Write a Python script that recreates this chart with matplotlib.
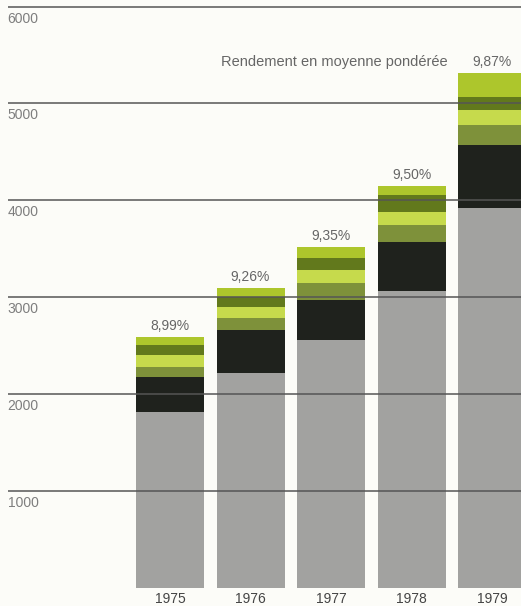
import numpy as np
import matplotlib.pyplot as plt

plt.rcParams['font.family'] = ['Liberation Sans', 'DejaVu Sans']

years = ['1975', '1976', '1977', '1978', '1979']
rates = ['8,99%', '9,26%', '9,35%', '9,50%', '9,87%']

# stacked layers, bottom to top
gray_part = [1813, 2216, 2557, 3063, 3920]
black_part = [362, 444, 413, 506, 651]
olive_part = [103, 124, 176, 176, 207]
light_lime = [124, 114, 134, 134, 155]
dark_olive = [103, 103, 124, 176, 134]
lime_top = [83, 93, 114, 93, 248]

grid_values = [1000, 2000, 3000, 4000, 5000, 6000]

layers = [gray_part, black_part, olive_part, light_lime, dark_olive, lime_top]
colors = ['#a2a2a0', '#1f221d', '#7e913a', '#c6da4c', '#62791c', '#adc62c']

fig = plt.figure(figsize=(5.21, 6.06), dpi=100)
fig.patch.set_facecolor('#fcfcf8')
ax = fig.add_axes([0, 0, 1, 1])
ax.set_facecolor('#fcfcf8')

x = np.arange(len(years))
bottom = np.zeros(len(years))
for vals, c in zip(layers, colors):
    ax.bar(x, vals, width=0.845, bottom=bottom, color=c, linewidth=0, zorder=2)
    bottom += np.array(vals)

x_left, x_right = -2.112, 4.36
ax.set_xlim(x_left, x_right)
ax.set_ylim(-191, 6069)

grid_start = x_left + 8 / 80.5
ax.hlines(grid_values, grid_start, x_right, color='#555555', linewidth=1.1, zorder=3)
for v in grid_values:
    ax.text(grid_start - 0.005, v - 50, str(v), fontsize=10, color='#7e7e7e',
            ha='left', va='top')

for i, (r, tot) in enumerate(zip(rates, bottom)):
    ax.text(x[i], tot + 45, r, fontsize=10, color='#666666',
            ha='center', va='bottom')

ax.text(x[-1] - 0.55, bottom[-1] + 45, 'Rendement en moyenne pondérée',
        fontsize=10.5, color='#666666', ha='right', va='bottom')

for i, yr in enumerate(years):
    ax.text(x[i], -118, yr, fontsize=10, color='#444444', ha='center', va='center')

ax.axis('off')
fig.savefig('out.png', dpi=100, facecolor=fig.get_facecolor())
